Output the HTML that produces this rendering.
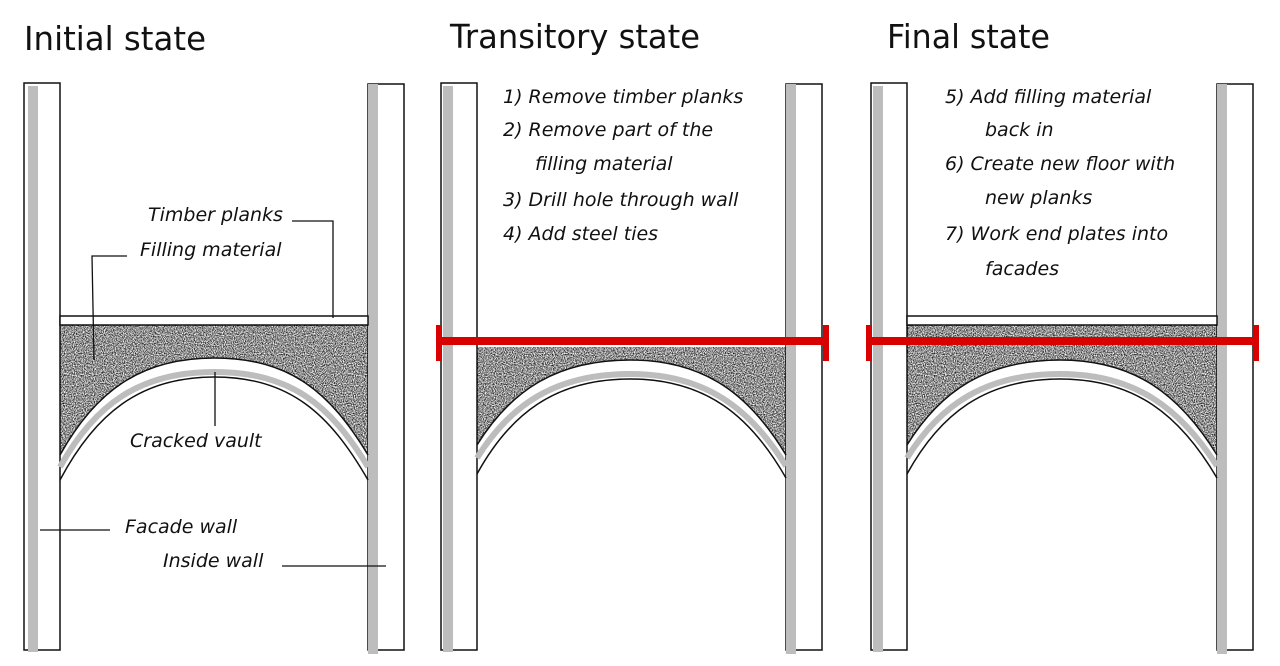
<!DOCTYPE html>
<html><head><meta charset="utf-8"><style>
html,body{margin:0;padding:0;background:#fff;width:1280px;height:666px;overflow:hidden}
svg{display:block}
text{font-family:"DejaVu Sans","Liberation Sans",sans-serif;fill:#111}
.t{font-size:33px;font-weight:normal}
.a{font-size:19px;font-style:italic}
</style></head><body>
<svg width="1280" height="666" viewBox="0 0 1280 666">
<defs>
<filter id="grain" x="0" y="0" width="100%" height="100%">
<feTurbulence type="fractalNoise" baseFrequency="0.9" numOctaves="2" seed="3" result="n"/>
<feColorMatrix in="n" type="matrix" values="0 0 0 0 0  0 0 0 0 0  0 0 0 0 0  0 0 0 -1.9 1.38" result="d"/>
<feComposite in="d" in2="SourceGraphic" operator="in"/>
</filter>
</defs>

<g>
<text class="t" x="24" y="50" textLength="182" lengthAdjust="spacingAndGlyphs">Initial state</text>
<g>
<rect x="24" y="83" width="36" height="567" fill="#fff" stroke="#111" stroke-width="1.5"/>
<rect x="28" y="86" width="10" height="566" fill="#bdbdbd"/>
</g>
<g>
<rect x="368" y="84" width="36" height="566" fill="#fff" stroke="#111" stroke-width="1.5"/>
<rect x="368" y="84" width="10" height="570" fill="#bdbdbd"/>
</g>
<rect x="60" y="316" width="308" height="9" fill="#fff" stroke="#111" stroke-width="1.5"/>
<path d="M60,325 L368,325 L368,455 C330,392 290,358 214,358 C140,358 95,392 60,455 Z" fill="#777" filter="url(#grain)"/>
<path d="M60,455 C95,392 140,358 214,358 C290,358 330,392 368,455" fill="none" stroke="#111" stroke-width="1.5"/>
<path d="M60,467 C95,404 140,372 214,372 C290,372 330,404 368,467" fill="none" stroke="#bdbdbd" stroke-width="6"/>
<path d="M60,480 C95,414 140,377 214,377 C290,377 330,414 368,480" fill="none" stroke="#111" stroke-width="1.5"/>
<g stroke="#111" stroke-width="1.3" fill="none">
<path d="M292,221 L333,221 L333,318"/>
<path d="M127,256 L92,256 L94,360"/>
<path d="M215,372 L215,426"/>
<path d="M40,530 L110,530"/>
<path d="M282,566 L386,566"/>
</g>
<text class="a" x="148" y="221">Timber planks</text>
<text class="a" x="140" y="256">Filling material</text>
<text class="a" x="130" y="447">Cracked vault</text>
<text class="a" x="125" y="533">Facade wall</text>
<text class="a" x="163" y="567">Inside wall</text>
</g>

<g>
<text class="t" x="450" y="48" textLength="250" lengthAdjust="spacingAndGlyphs">Transitory state</text>
<g>
<rect x="441" y="83" width="36" height="567" fill="#fff" stroke="#111" stroke-width="1.5"/>
<rect x="443" y="86" width="10" height="566" fill="#bdbdbd"/>
</g>
<g>
<rect x="786" y="84" width="36" height="566" fill="#fff" stroke="#111" stroke-width="1.5"/>
<rect x="786" y="84" width="10" height="570" fill="#bdbdbd"/>
</g>
<path d="M477,347 L786,347 L786,455 C750,395 705,360 630,360 C555,360 510,392 477,445 Z" fill="#777" filter="url(#grain)"/>
<path d="M477,445 C510,392 555,360 630,360 C705,360 750,395 786,455" fill="none" stroke="#111" stroke-width="1.5"/>
<path d="M477,458 C510,405 555,374 630,374 C705,374 750,408 786,466" fill="none" stroke="#bdbdbd" stroke-width="6"/>
<path d="M477,474 C510,414 555,379 630,379 C705,379 750,415 786,478" fill="none" stroke="#111" stroke-width="1.5"/>
<g>
<rect x="437" y="337" width="390" height="8" fill="#d90000"/>
<rect x="436" y="325" width="6" height="36" fill="#d90000"/>
<rect x="823" y="325" width="6" height="36" fill="#d90000"/>
</g>
<text class="a" x="503" y="103">1)  Remove timber planks</text>
<text class="a" x="503" y="136">2)  Remove part of the</text>
<text class="a" x="535" y="170">filling material</text>
<text class="a" x="503" y="206">3)  Drill hole through wall</text>
<text class="a" x="503" y="240">4)  Add steel ties</text>
</g>

<g>
<text class="t" x="887" y="48" textLength="163" lengthAdjust="spacingAndGlyphs">Final state</text>
<g>
<rect x="871" y="83" width="36" height="567" fill="#fff" stroke="#111" stroke-width="1.5"/>
<rect x="873" y="86" width="10" height="566" fill="#bdbdbd"/>
</g>
<g>
<rect x="1217" y="84" width="36" height="566" fill="#fff" stroke="#111" stroke-width="1.5"/>
<rect x="1217" y="84" width="10" height="570" fill="#bdbdbd"/>
</g>
<rect x="907" y="316" width="310" height="9" fill="#fff" stroke="#111" stroke-width="1.5"/>
<path d="M907,325 L1217,325 L1217,455 C1180,395 1135,360 1060,360 C985,360 940,392 907,445 Z" fill="#777" filter="url(#grain)"/>
<path d="M907,445 C940,392 985,360 1060,360 C1135,360 1180,395 1217,455" fill="none" stroke="#111" stroke-width="1.5"/>
<path d="M907,458 C940,405 985,374 1060,374 C1135,374 1180,408 1217,466" fill="none" stroke="#bdbdbd" stroke-width="6"/>
<path d="M907,474 C940,414 985,379 1060,379 C1135,379 1180,415 1217,478" fill="none" stroke="#111" stroke-width="1.5"/>
<g>
<rect x="867" y="337" width="390" height="8" fill="#d90000"/>
<rect x="866" y="325" width="6" height="36" fill="#d90000"/>
<rect x="1253" y="325" width="6" height="36" fill="#d90000"/>
</g>
<text class="a" x="945" y="103">5)  Add filling material</text>
<text class="a" x="985" y="136">back in</text>
<text class="a" x="945" y="170">6)  Create new floor with</text>
<text class="a" x="985" y="204">new planks</text>
<text class="a" x="945" y="240">7)  Work end plates into</text>
<text class="a" x="985" y="275">facades</text>
</g>
</svg>
</body></html>
